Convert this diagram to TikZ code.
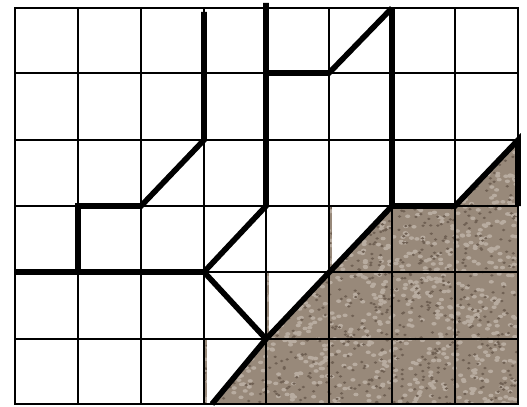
\documentclass[tikz,border=0pt]{standalone}
\usepackage{tikz}
\definecolor{granite}{RGB}{152,137,122}
\definecolor{graniteLight}{RGB}{184,172,160}
\definecolor{graniteDark}{RGB}{112,97,84}

\begin{document}
\begin{tikzpicture}[x=0.75pt,y=0.75pt,yscale=-1,xscale=1,
  gridline/.style={line width=1.4pt},
  boldline/.style={line width=4.2pt}]
\useasboundingbox (0,0) rectangle (527,406);

%Shape: Polygon [textured ground]
\fill [granite] (204,404) -- (204,339) -- (266,339) -- (266,272) -- (329,272) -- (329,206) -- (455,206) -- (518,140) -- (518,404) -- cycle ;
\begin{scope}
\clip (204,404) -- (204,339) -- (266,339) -- (266,272) -- (329,272) -- (329,206) -- (455,206) -- (518,140) -- (518,404) -- cycle ;
\pgfmathsetseed{11}
\foreach \k in {1,...,1200}{
  \pgfmathsetmacro{\px}{204+314*rnd}
  \pgfmathsetmacro{\py}{140+264*rnd}
  \fill [graniteLight] (\px,\py) ellipse (2.6 and 1.8) ;
}
\foreach \k in {1,...,1000}{
  \pgfmathsetmacro{\px}{204+314*rnd}
  \pgfmathsetmacro{\py}{140+264*rnd}
  \fill [graniteDark] (\px,\py) ellipse (1.8 and 1.3) ;
}
\end{scope}

%Shape: Triangles [white corners]
\fill [white] (207,339) -- (266,339) -- (212,404) -- (207,404) -- cycle ;
\fill [white] (269,272) -- (329,272) -- (269,336) -- cycle ;
\fill [white] (332,206) -- (392,206) -- (332,270) -- cycle ;
\fill [white] (455,140) -- (518,140) -- (455,206) -- cycle ;

%Shape: Grid
\draw [gridline] (15,8) rectangle (518,404)
  (78,8) -- (78,404) (141,8) -- (141,404) (204,8) -- (204,404) (266,8) -- (266,404)
  (329,8) -- (329,404) (392,8) -- (392,404) (455,8) -- (455,404)
  (15,73) -- (518,73) (15,140) -- (518,140) (15,206) -- (518,206)
  (15,272) -- (518,272) (15,339) -- (518,339) ;

%Straight Lines [left path]
\draw [boldline] (204,12) -- (204,140) -- (141,206) -- (78,206) -- (78,272) ;
%Straight Lines [middle path]
\draw [boldline] (15,272) -- (204,272) -- (266,206) -- (266,3) ;
\draw [boldline] (204,272) -- (266,339) ;
%Straight Lines [upper path]
\draw [boldline] (266,73) -- (329,73) -- (392,8) ;
%Straight Lines [right path]
\draw [boldline] (392,8) -- (392,206) -- (455,206) -- (518,140) -- (518,206) ;
%Straight Lines [long slope]
\draw [boldline] (392,206) -- (266,339) -- (212,404) ;

\end{tikzpicture}
\end{document}
